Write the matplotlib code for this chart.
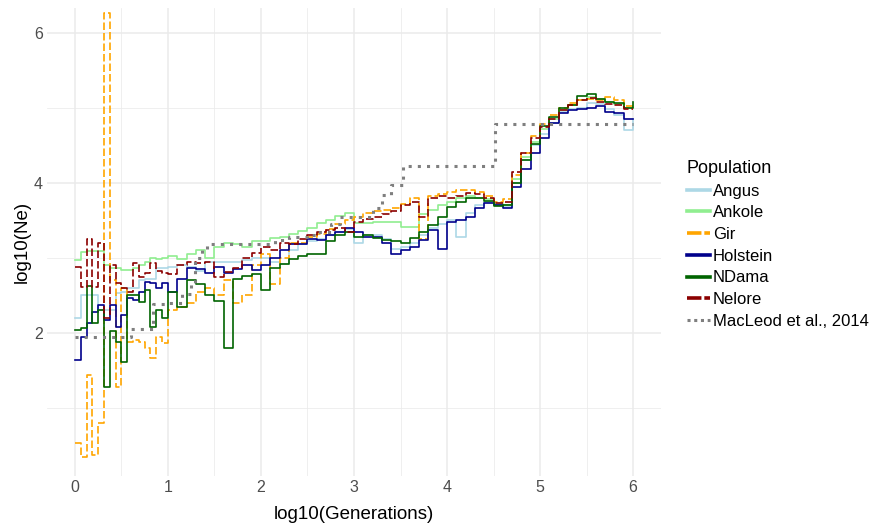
import numpy as np
import matplotlib.pyplot as plt
from matplotlib.lines import Line2D

plt.rcParams['font.family'] = ['Liberation Sans', 'DejaVu Sans']

## Step edges in log10(generations): finer bins below 1, 0.1 bins above
log_gen = np.r_[np.arange(0, 1, 0.0625), np.round(np.arange(1, 6.01, 0.1), 2)]

# log10(Ne) per bin (last value closes the final step at x = 6)
angus = [2.2, 2.5, 2.5, 2.5, 2.31, 2.31, 2.31, 2.53, 2.55, 2.6, 2.6, 2.7, 2.72, 2.72, 2.86, 2.86,
         2.88, 2.9, 2.88, 2.82, 2.95, 2.95, 2.95, 2.95, 2.97, 3.0,
         3.0, 2.95, 2.92, 3.1, 3.18, 3.22, 3.25, 3.3, 3.35, 3.38,
         3.2, 3.3, 3.3, 3.25, 3.12, 3.15, 3.2, 3.3, 3.4, 3.45,
         3.5, 3.28, 3.6, 3.7, 3.75, 3.72, 3.68, 4.0, 4.3, 4.5,
         4.65, 4.8, 4.95, 4.98, 5.0, 5.06, 5.05, 4.98, 4.9, 4.7,
         4.85]
ankole = [2.97, 3.08, 3.09, 3.09, 3.09, 2.91, 2.86, 2.86, 2.84, 2.84, 2.86, 2.9, 2.95, 3.0, 2.98, 3.0,
          3.02, 2.98, 3.05, 3.1, 3.0, 3.15, 3.2, 3.18, 3.15, 3.22,
          3.22, 3.26, 3.28, 3.32, 3.36, 3.4, 3.46, 3.5, 3.56, 3.6,
          3.47, 3.47, 3.48, 3.48, 3.48, 3.41, 3.41, 3.58, 3.64, 3.7,
          3.75, 3.8, 3.82, 3.8, 3.78, 3.72, 3.7, 4.05, 4.35, 4.55,
          4.72, 4.85, 4.97, 5.04, 5.1, 5.14, 5.12, 5.08, 5.05, 5.0,
          5.0]
gir = [0.53, 0.35, 1.44, 0.37, 0.8, 6.27, 2.7, 1.28, 2.6, 1.88, 1.9, 1.88, 1.8, 1.67, 1.95, 1.87,
       2.3, 2.35, 2.4, 2.55, 2.6, 2.5, 2.7, 2.4, 2.5, 2.9,
       3.05, 2.65, 3.0, 3.2, 3.2, 3.28, 3.32, 3.38, 3.45, 3.5,
       3.55, 3.6, 3.62, 3.64, 3.66, 3.72, 3.8, 3.25, 3.82, 3.85,
       3.88, 3.9, 3.9, 3.88, 3.82, 3.75, 3.78, 4.1, 4.4, 4.62,
       4.78, 4.9, 5.0, 5.06, 5.1, 5.12, 5.1, 5.14, 5.1, 5.02,
       5.02]
holstein = [1.64, 1.94, 2.13, 2.28, 2.37, 2.17, 2.37, 2.08, 2.24, 2.46, 2.44, 2.55, 2.68, 2.66, 2.6, 2.66,
            2.55, 2.72, 2.86, 2.85, 2.8, 2.88, 2.8, 2.85, 2.9, 2.84,
            2.9, 3.0, 3.1, 3.18, 3.18, 3.25, 3.24, 3.3, 3.35, 3.4,
            3.35, 3.28, 3.28, 3.2, 3.05, 3.1, 3.14, 3.24, 3.37, 3.12,
            3.48, 3.5, 3.55, 3.66, 3.73, 3.7, 3.66, 3.95, 4.18, 4.4,
            4.6, 4.8, 4.93, 4.97, 4.98, 5.0, 5.02, 4.95, 4.93, 4.85,
            4.85]
ndama = [2.04, 2.06, 2.62, 2.13, 2.3, 1.28, 2.02, 1.88, 1.61, 2.5, 2.5, 2.41, 2.57, 2.08, 2.3, 2.2,
         2.55, 2.35, 2.7, 2.65, 2.5, 2.42, 1.8, 2.72, 2.76, 2.78,
         2.57, 2.87, 2.92, 2.98, 3.02, 3.05, 3.05, 3.22, 3.3, 3.35,
         3.28, 3.3, 3.26, 3.24, 3.22, 3.2, 3.27, 3.35, 3.44, 3.55,
         3.68, 3.74, 3.8, 3.8, 3.76, 3.69, 3.7, 4.0, 4.3, 4.52,
         4.76, 4.88, 5.0, 5.04, 5.16, 5.18, 5.12, 5.08, 5.07, 5.0,
         5.08]
nelore = [2.88, 2.61, 3.25, 2.61, 3.2, 2.2, 2.9, 2.66, 2.6, 2.55, 2.93, 2.75, 2.8, 2.93, 2.82, 2.8,
          2.78, 2.9, 2.95, 2.93, 2.95, 2.75, 2.81, 2.86, 3.0, 3.06,
          3.15, 3.11, 3.2, 3.18, 3.25, 3.3, 3.34, 3.37, 3.4, 3.35,
          3.48, 3.52, 3.55, 3.58, 3.62, 3.7, 3.75, 3.55, 3.8, 3.82,
          3.8, 3.82, 3.86, 3.85, 3.8, 3.73, 3.74, 4.15, 4.4, 4.6,
          4.75, 4.85, 4.97, 5.04, 5.1, 5.13, 5.08, 5.05, 5.04, 4.98,
          4.98]

# MacLeod et al., 2014 estimate (own step positions)
macleod_x = [0, 0.6, 0.84, 1.0, 1.15, 1.25, 1.29, 1.37, 1.42, 2.15, 2.3, 2.5, 2.6, 2.75, 2.85,
             3.0, 3.2, 3.3, 3.4, 3.53, 4.52, 6.0]
macleod_y = [1.95, 2.05, 2.38, 2.4, 2.52, 2.67, 3.0, 3.1, 3.18, 3.24, 3.28, 3.3, 3.35, 3.45, 3.55,
             3.55, 3.67, 3.84, 3.97, 4.22, 4.79, 4.79]

populations = ['Angus', 'Ankole', 'Gir', 'Holstein', 'NDama', 'Nelore']
series = [angus, ankole, gir, holstein, ndama, nelore]
colors = ['#ADD8E6', '#90EE90', '#FFA500', '#00008B', '#006400', '#8B0000']
dashed = [False, False, True, False, False, True]

fig = plt.figure(figsize=(8.74, 5.23), dpi=100)
ax = fig.add_axes([47/874, 1 - 476/523, 614/874, 468/523])

handles = []
for name, vals, col, dsh in zip(populations, series, colors, dashed):
    ls = (0, (4.5, 1.8)) if dsh else '-'
    ax.step(log_gen, vals, where='post', color=col, lw=1.2, linestyle=ls)
    handles.append(Line2D([], [], color=col, lw=2.6,
                          linestyle=(0, (4, 0.8)) if dsh else '-'))

ax.step(macleod_x, macleod_y, where='post', color='#7F7F7F', lw=2.2,
        linestyle=(0, (1, 2)), dash_capstyle='butt')
handles.append(Line2D([], [], color='#7F7F7F', lw=2.2, linestyle=(0, (1, 1.2)),
                      dash_capstyle='butt'))

ax.set_xlim(-0.3, 6.3)
ax.set_ylim(0.093, 6.333)
ax.set_xticks(range(7))
ax.set_xticks(np.arange(0.5, 6, 1), minor=True)
ax.set_yticks([2, 4, 6])
ax.set_yticks([1, 3, 5], minor=True)
ax.tick_params(which='both', length=0, labelsize=11.5, labelcolor='#4D4D4D')
ax.tick_params(axis='y', pad=3)
ax.tick_params(axis='x', pad=3)
ax.grid(which='major', color='#EBEBEB', lw=1.1)
ax.grid(which='minor', color='#EBEBEB', lw=0.55)
ax.set_axisbelow(True)
for s in ax.spines.values():
    s.set_visible(False)

ax.set_xlabel('log10(Generations)', fontsize=13.5, labelpad=8)
ax.set_ylabel('log10(Ne)', fontsize=13.5, labelpad=2)

fig.legend(handles, populations + ['MacLeod et al., 2014'], title='Population',
           loc='upper left', bbox_to_anchor=(687/874, 1 - 160/523), frameon=False,
           fontsize=12, title_fontsize=13, handlelength=1.35, handletextpad=0.2,
           labelspacing=0.4, borderpad=0, borderaxespad=0, alignment='left')

fig.savefig('out.png', dpi=100, facecolor='white')
